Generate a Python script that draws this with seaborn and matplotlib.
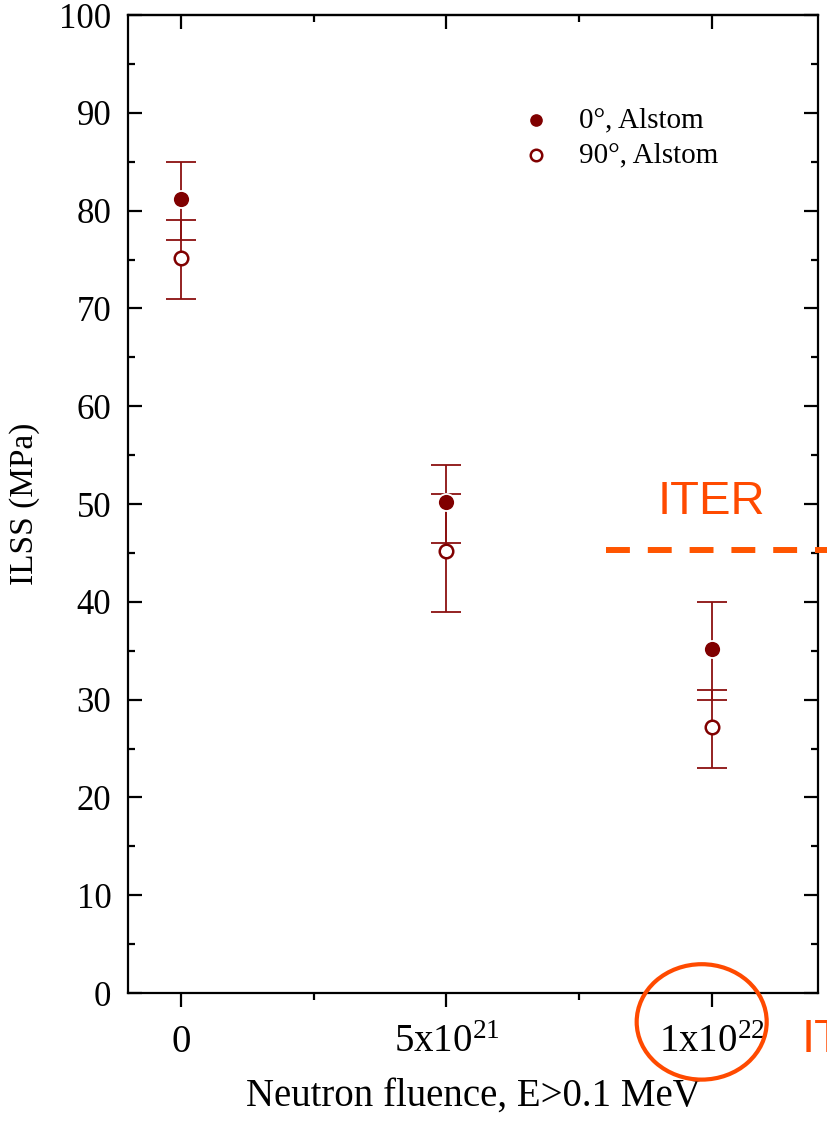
import matplotlib
matplotlib.use('Agg')
import matplotlib.pyplot as plt
import numpy as np
import pandas as pd
import seaborn as sns
from matplotlib.patches import Ellipse
from matplotlib.ticker import MultipleLocator

sns.set_style('ticks')
plt.rcParams['font.family'] = ['Liberation Serif', 'DejaVu Serif']
plt.rcParams['mathtext.fontset'] = 'custom'
plt.rcParams['mathtext.rm'] = 'Liberation Serif'
plt.rcParams['mathtext.it'] = 'Liberation Serif:italic'
plt.rcParams['text.color'] = 'black'
plt.rcParams['axes.labelcolor'] = 'black'
plt.rcParams['xtick.color'] = 'black'
plt.rcParams['ytick.color'] = 'black'

# fluence in units of 1e21 n/m2
fluence = [0, 5, 10]
ilss_0 = [81.2, 50.2, 35.2]
ilss_0_lo = [77, 46, 30]
ilss_0_hi = [85, 54, 40]
ilss_90 = [75.2, 45.2, 27.2]
ilss_90_lo = [71, 39, 23]
ilss_90_hi = [79, 51, 31]
tick_pos = [0, 5, 10]
tick_labels = ['0', '5x10$^{21}$', '1x10$^{22}$']
iter_level = 45.3

DARK = '#800000'
ORANGE = '#FF4A00'

df = pd.DataFrame({
    'fluence': fluence * 2,
    'ilss': ilss_0 + ilss_90,
    'series': ['0°, Alstom'] * 3 + ['90°, Alstom'] * 3,
})

fig = plt.figure(figsize=(8.27, 11.24), dpi=100)
ax = fig.add_axes([0.1548, 0.1165, 0.8342, 0.8701])

# error bars
for vals, lo, hi in [(ilss_0, ilss_0_lo, ilss_0_hi), (ilss_90, ilss_90_lo, ilss_90_hi)]:
    v = np.array(vals)
    yerr = [v - np.array(lo), np.array(hi) - v]
    ax.errorbar(fluence, v, yerr=yerr, fmt='none', ecolor='#8B1010',
                elinewidth=1.3, capsize=10.5, capthick=1.3, zorder=2)

d0 = df[df['series'] == '0°, Alstom']
d90 = df[df['series'] == '90°, Alstom']
sns.scatterplot(data=d0, x='fluence', y='ilss', color=DARK, s=150,
                edgecolor='white', linewidth=1.3, marker='o',
                label='0°, Alstom', ax=ax, zorder=3)
sns.scatterplot(data=d90, x='fluence', y='ilss', facecolor='white', s=95,
                edgecolor=DARK, linewidth=1.8, marker='o',
                label='90°, Alstom', ax=ax, zorder=3)

ax.set_xlim(-1, 12)
ax.set_ylim(0, 100)
ax.yaxis.set_major_locator(MultipleLocator(10))
ax.yaxis.set_minor_locator(MultipleLocator(5))
ax.set_xticks(tick_pos)
ax.set_xticklabels(tick_labels)
ax.xaxis.set_minor_locator(MultipleLocator(2.5))

for s in ax.spines.values():
    s.set_linewidth(1.6)
    s.set_color('black')

ax.tick_params(axis='y', which='both', direction='in', left=True, right=True,
               labelsize=25, pad=12, width=1.6)
ax.tick_params(axis='y', which='major', length=10)
ax.tick_params(axis='y', which='minor', length=5)
ax.tick_params(axis='x', which='both', direction='out', top=False,
               labelsize=28, pad=12, width=1.6)
ax.tick_params(axis='x', which='major', length=10)
ax.tick_params(axis='x', which='minor', length=5)

top = ax.secondary_xaxis('top')
top.set_xticks(tick_pos)
top.xaxis.set_minor_locator(MultipleLocator(2.5))
top.tick_params(which='both', direction='in', labeltop=False, width=1.6)
top.tick_params(which='major', length=10)
top.tick_params(which='minor', length=5)
top.spines['top'].set_linewidth(1.6)

ax.set_xlabel('Neutron fluence, E>0.1 MeV', fontsize=28, labelpad=12)
ax.set_ylabel('ILSS (MPa)', fontsize=24, labelpad=14)

leg = ax.legend(loc='upper left', bbox_to_anchor=(0.554, 0.918), frameon=False,
                fontsize=21, handlelength=1.0, handletextpad=0.95,
                labelspacing=0.3, borderaxespad=0, markerscale=0.85)

# ITER annotations
ax.plot([8.0, 12.3], [iter_level, iter_level], color='#FF5500', lw=4.3,
        ls=(0, (4, 3)), clip_on=False, zorder=4)
ax.text(10.0, iter_level + 2.7, 'ITER', color=ORANGE, fontsize=34,
        family='Liberation Sans', ha='center', va='bottom')
ax.add_patch(Ellipse((9.81, -2.95), 2.45, 11.8, fill=False, edgecolor=ORANGE,
                     lw=3, clip_on=False, zorder=5))
fig.text(0.969, 0.075, 'ITER', color=ORANGE, fontsize=34,
         family='Liberation Sans', ha='left', va='center')

fig.savefig('out.png', dpi=100)
